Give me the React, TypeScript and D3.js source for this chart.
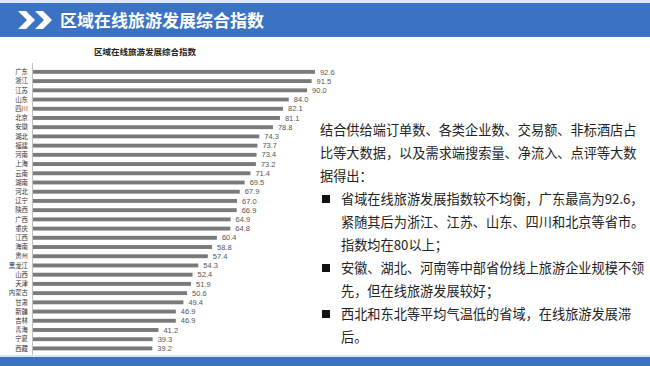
import React from "react";
import { scaleBand, scaleLinear } from "d3";

const provinces = [
  "广东", "浙江", "江苏", "山东", "四川", "北京", "安徽", "湖北", "福建", "河南",
  "上海", "云南", "湖南", "河北", "辽宁", "陕西", "广西", "重庆", "江西", "海南",
  "贵州", "黑龙江", "山西", "天津", "内蒙古", "甘肃", "新疆", "吉林", "青海", "宁夏", "西藏",
];
const indexValues = [
  92.6, 91.5, 90.0, 84.0, 82.1, 81.1, 78.8, 74.3, 73.7, 73.4,
  73.2, 71.4, 69.5, 67.9, 67.0, 66.9, 64.9, 64.8, 60.4, 58.8,
  57.4, 54.3, 52.4, 51.9, 50.6, 49.4, 46.9, 46.9, 41.2, 39.3, 39.2,
];

const pageTitle = "区域在线旅游发展综合指数";
const chartTitle = "区域在线旅游发展综合指数";
const introLines = [
  "结合供给端订单数、各类企业数、交易额、非标酒店占",
  "比等大数据，以及需求端搜索量、净流入、点评等大数",
  "据得出：",
];
const bullets = [
  ["省域在线旅游发展指数较不均衡，广东最高为92.6，", "紧随其后为浙江、江苏、山东、四川和北京等省市。", "指数均在80以上；"],
  ["安徽、湖北、河南等中部省份线上旅游企业规模不领", "先，但在线旅游发展较好；"],
  ["西北和东北等平均气温低的省域，在线旅游发展滞", "后。"],
];

const W = 650;
const H = 366;
const FONT = "'Noto Sans CJK SC', 'Noto Sans', sans-serif";
const NUM_FONT = "'Liberation Sans', Arial, sans-serif";
const BLUE = "#3b72c4";

export default function App() {
  const x = scaleLinear().domain([0, 100]).range([33, 337.5]);
  const y = scaleBand().domain(provinces).range([64.6, 355.7]).padding(0.58);
  const fmt = (v: number) => v.toFixed(1);

  // right-hand text lines with bullet flags
  const textRows: { text: string; bullet: boolean; indent: boolean }[] = [];
  introLines.forEach((t) => textRows.push({ text: t, bullet: false, indent: false }));
  bullets.forEach((b) =>
    b.forEach((t, i) => textRows.push({ text: t, bullet: i === 0, indent: true }))
  );

  return (
    <div style={{ position: "fixed", left: 0, top: 0, width: W, height: H, background: "#fff" }}>
      <svg width={W} height={H} style={{ display: "block", fontFamily: FONT }}>
        {/* header */}
        <rect x={0} y={0} width={W} height={3} fill="#dfe9f6" />
        <rect x={0} y={3} width={W} height={34} fill={BLUE} />
        {[0, 17].map((dx, i) => (
          <path
            key={i}
            d={`M${18 + dx},11 L${26 + dx},11 L${35 + dx},20 L${26 + dx},29 L${18 + dx},29 L${27 + dx},20 Z`}
            fill="#fff"
          />
        ))}
        <text x={60} y={27} fontSize={17} fontWeight={700} fill="#fff">
          {pageTitle}
        </text>

        {/* chart */}
        <text x={145} y={55} fontSize={8.5} fontWeight={700} fill="#222" textAnchor="middle">
          {chartTitle}
        </text>
        <line x1={32.5} x2={32.5} y1={63} y2={356} stroke="#bfbfbf" strokeWidth={1} />
        {provinces.map((p, i) => {
          const yy = y(p) ?? 0;
          const v = indexValues[i];
          return (
            <g key={p}>
              <rect x={x(0)} y={yy} width={x(v) - x(0)} height={y.bandwidth()} fill="#7a7a7a" />
              <text
                x={28}
                y={yy + y.bandwidth() / 2}
                dy="0.35em"
                fontSize={6.4}
                fill="#333"
                textAnchor="end"
              >
                {p}
              </text>
              <text
                x={x(v) + 5}
                y={yy + y.bandwidth() / 2}
                dy="0.35em"
                fontSize={7.5}
                fontFamily={NUM_FONT}
                fill="#555"
              >
                {fmt(v)}
              </text>
            </g>
          );
        })}

        {/* right text */}
        {textRows.map((r, i) => {
          const cy = 130 + i * 23;
          return (
            <g key={i}>
              {r.bullet && <rect x={322} y={cy - 4} width={8} height={8} fill="#111" />}
              <text x={r.indent ? 341 : 320} y={cy} dy="0.36em" fontSize={13.2} fill="#222">
                {r.text}
              </text>
            </g>
          );
        })}

        {/* footer */}
        <rect x={0} y={355} width={W} height={2} fill="#d6e4f5" />
        <rect x={0} y={357} width={W} height={9} fill={BLUE} />
      </svg>
    </div>
  );
}
